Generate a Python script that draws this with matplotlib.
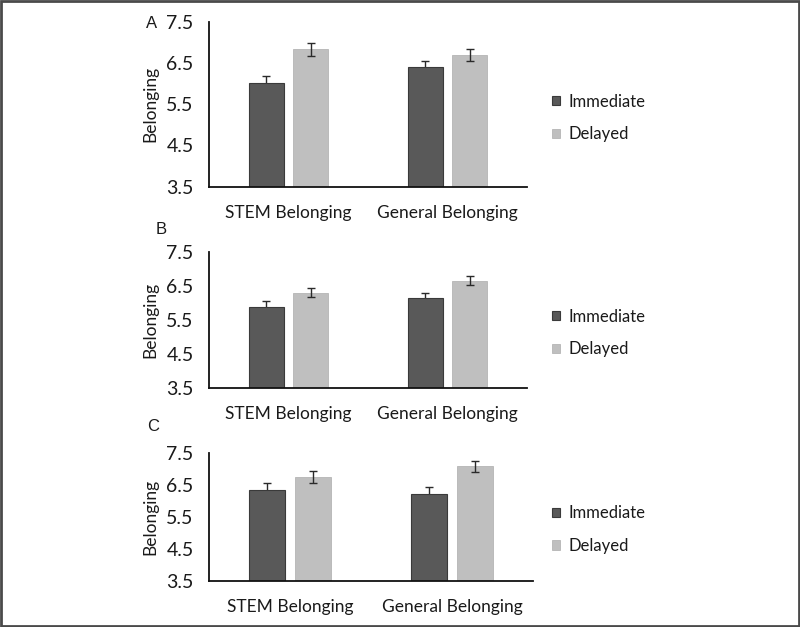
import matplotlib
matplotlib.use('Agg')
import matplotlib.pyplot as plt
import matplotlib.patches as mpatches
import numpy as np

# data
categories = ['STEM Belonging', 'General Belonging']
panels = ['A', 'B', 'C']
immediate_A = [6.01, 6.41]
delayed_A = [6.83, 6.69]
immediate_err_A = [0.17, 0.14]
delayed_err_A = [0.15, 0.14]

immediate_B = [5.89, 6.13]
delayed_B = [6.30, 6.65]
immediate_err_B = [0.17, 0.17]
delayed_err_B = [0.14, 0.13]

immediate_C = [6.35, 6.21]
delayed_C = [6.75, 7.08]
immediate_err_C = [0.19, 0.22]
delayed_err_C = [0.18, 0.17]

y_ticks = [3.5, 4.5, 5.5, 6.5, 7.5]
series_names = ['Immediate', 'Delayed']

dark = '#595959'
light = '#bfbfbf'
txt = '#1a1a1a'
font = 'Lato'

fig = plt.figure(figsize=(8, 6.27), dpi=100)

# axes rectangles [left, bottom, width, height], legend y centre
layout = {
    'A': ([0.26125, 0.7022, 0.3975, 0.2632], 0.812),
    'B': ([0.26125, 0.3807, 0.3975, 0.2179], 0.469),
    'C': ([0.26125, 0.0738, 0.405, 0.2041], 0.155),
}
data = {
    'A': (immediate_A, delayed_A, immediate_err_A, delayed_err_A),
    'B': (immediate_B, delayed_B, immediate_err_B, delayed_err_B),
    'C': (immediate_C, delayed_C, immediate_err_C, delayed_err_C),
}

for p in panels:
    rect, leg_y = layout[p]
    imm, dly, imm_e, dly_e = data[p]
    ax = fig.add_axes(rect)
    x = np.arange(len(categories))
    w = 0.22
    off = 0.141
    ax.bar(x - off, imm, w, color=dark, edgecolor='#3a3a3a',
           linewidth=0.8, label=series_names[0], zorder=2)
    ax.bar(x + off, dly, w, color=light, edgecolor='#b5b5b5',
           linewidth=0.6, label=series_names[1], zorder=2)
    # lower half of the dark bars' error bars is hidden behind the bar
    ax.errorbar(x - off, imm, yerr=imm_e, fmt='none', ecolor='#2a2a2a',
                elinewidth=1, capsize=3, capthick=1, zorder=1)
    ax.errorbar(x + off, dly, yerr=dly_e, fmt='none', ecolor='#2a2a2a',
                elinewidth=1, capsize=3, capthick=1, zorder=3)

    ax.set_xlim(-0.5, 1.5)
    ax.set_ylim(3.5, 7.5)
    ax.set_yticks(y_ticks)
    ax.set_yticklabels([str(t) for t in y_ticks], fontsize=14,
                       family=font, color=txt)
    ax.set_xticks(x)
    ax.set_xticklabels(categories, fontsize=12.5, family=font, color=txt)
    ax.tick_params(axis='both', length=0)
    ax.tick_params(axis='y', pad=11)
    ax.tick_params(axis='x', pad=13)
    for s in ['top', 'right']:
        ax.spines[s].set_visible(False)
    ax.spines['left'].set_linewidth(1.3)
    ax.spines['bottom'].set_linewidth(1.3)
    ax.spines['left'].set_color('#111111')
    ax.spines['bottom'].set_color('#111111')
    ax.set_ylabel('Belonging', fontsize=12.5, family=font, color=txt,
                  labelpad=6)

    h, l = ax.get_legend_handles_labels()
    fig.legend(h, l, loc='center left', bbox_to_anchor=(0.671, leg_y),
               frameon=False, prop={'family': font, 'size': 12},
               handlelength=0.5, handleheight=0.5, handletextpad=0.5,
               labelspacing=1.0, labelcolor=txt)

# panel letters
fig.text(0.183, 0.955, 'A', fontsize=12, family='Liberation Sans', color=txt)
fig.text(0.194, 0.627, 'B', fontsize=12, family='Liberation Sans', color=txt)
fig.text(0.184, 0.313, 'C', fontsize=12, family='Liberation Sans', color=txt)

# frame around the figure
fig.patches.append(mpatches.Rectangle((0.001, 0.0015), 0.998, 0.997,
                                      transform=fig.transFigure, fill=False,
                                      edgecolor='#4a4a4a', linewidth=2))

fig.savefig('out.png', dpi=100)
